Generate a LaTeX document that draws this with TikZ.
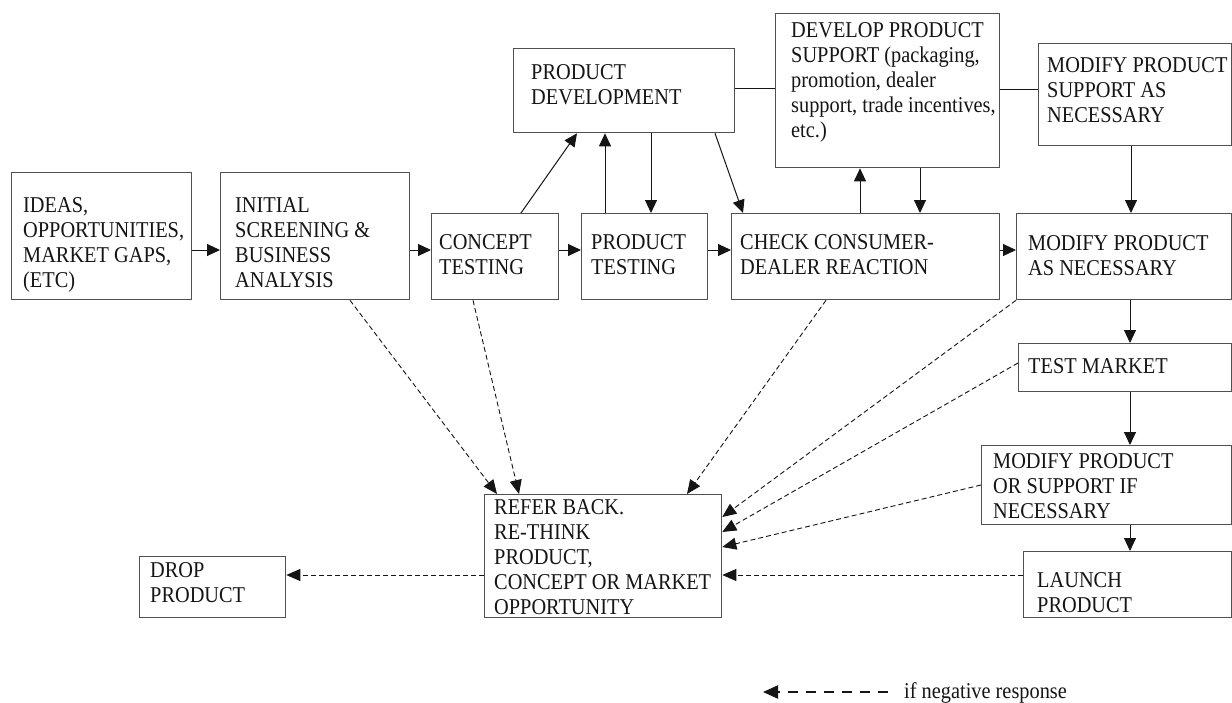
\documentclass[tikz,border=0pt]{standalone}
\usepackage{fontspec}
\setmainfont{Liberation Serif}[FakeStretch=0.9]
\usetikzlibrary{arrows.meta,calc}
\definecolor{boxline}{HTML}{505050}
\definecolor{ink}{HTML}{151515}
\tikzset{
  box/.style={draw=boxline, line width=1.3pt, rectangle, inner sep=0pt, anchor=north west, fill=none},
  txt/.style={anchor=north west, inner sep=0pt, align=left, text=ink, font={\fontsize{22.6}{25}\selectfont}},
  arr/.style={draw=ink, line width=1pt, -{Triangle[length=13pt,width=12pt]}},
  plain/.style={draw=ink, line width=1pt},
  neg/.style={draw=ink, line width=0.9pt, dash pattern=on 5pt off 3pt, -{Triangle[length=14pt,width=12pt]}},
  legarr/.style={draw=ink, line width=2.2pt, dash pattern=on 10pt off 8pt, -{Triangle[length=15pt,width=13pt]}}
}
\begin{document}
\begin{tikzpicture}[x=1pt,y=-1pt]
\fill[white] (0,0) rectangle (1232,702);
\useasboundingbox (0,0) rectangle (1232,702);
% boxes
\node[box, minimum width=180pt, minimum height=127pt] (ideas) at (11,172) {};
\node[box, minimum width=189pt, minimum height=127pt] (initial) at (220,172) {};
\node[box, minimum width=127pt, minimum height=86pt] (concept) at (431,213) {};
\node[box, minimum width=126pt, minimum height=86pt] (ptest) at (581,213) {};
\node[box, minimum width=268pt, minimum height=86pt] (check) at (731,213) {};
\node[box, minimum width=215pt, minimum height=86pt] (modify) at (1016,213) {};
\node[box, minimum width=221pt, minimum height=84pt] (pdev) at (513,48) {};
\node[box, minimum width=224pt, minimum height=154pt] (devsup) at (775,13) {};
\node[box, minimum width=193pt, minimum height=102pt] (modsup) at (1038,43) {};
\node[box, minimum width=213pt, minimum height=48pt] (tmarket) at (1018,343) {};
\node[box, minimum width=250pt, minimum height=79pt] (modos) at (981,445) {};
\node[box, minimum width=208pt, minimum height=66pt] (launch) at (1023,551) {};
\node[box, minimum width=237pt, minimum height=123pt] (refer) at (484,494) {};
\node[box, minimum width=146pt, minimum height=61pt] (drop) at (139,556) {};
% texts
\node[txt] (ideasT) at (23,197) {IDEAS,\\OPPORTUNITIES,\\MARKET GAPS,\\(ETC)};
\node[txt] (initialT) at (235,197) {INITIAL\\SCREENING \&\\BUSINESS\\ANALYSIS};
\node[txt] (conceptT) at (439,234) {CONCEPT\\TESTING};
\node[txt] (ptestT) at (591,234) {PRODUCT\\TESTING};
\node[txt] (checkT) at (740,234) {CHECK CONSUMER-\\DEALER REACTION};
\node[txt] (modifyT) at (1028,235) {MODIFY PRODUCT\\AS NECESSARY};
\node[txt] (pdevT) at (531,64) {PRODUCT\\DEVELOPMENT};
\node[txt] (devsupT) at (791,22) {DEVELOP PRODUCT\\SUPPORT (packaging,\\promotion, dealer\\support, trade incentives,\\etc.)};
\node[txt] (modsupT) at (1047,57) {MODIFY PRODUCT\\SUPPORT AS\\NECESSARY};
\node[txt] (tmarketT) at (1028,358) {TEST MARKET};
\node[txt] (modosT) at (993,453) {MODIFY PRODUCT\\OR SUPPORT IF\\NECESSARY};
\node[txt] (launchT) at (1037,572) {LAUNCH\\PRODUCT};
\node[txt] (referT) at (494,499) {REFER BACK.\\RE-THINK\\PRODUCT,\\CONCEPT OR MARKET\\OPPORTUNITY};
\node[txt] (dropT) at (150,562) {DROP\\PRODUCT};
% main flow
\draw[arr] ($(ideas.north east)+(0,78)$) -- ($(initial.north west)+(0,78)$);
\draw[arr] ($(initial.north east)+(0,78)$) -- ($(concept.north west)+(0,37)$);
\draw[arr] ($(concept.north east)+(0,37)$) -- ($(ptest.north west)+(0,37)$);
\draw[arr] ($(ptest.north east)+(0,37)$) -- ($(check.north west)+(0,37)$);
\draw[arr] ($(check.north east)+(0,37)$) -- ($(modify.north west)+(0,37)$);
\draw[arr] ($(concept.north west)+(90,0)$) -- ($(pdev.south west)+(64,0)$);
\draw[arr] ($(ptest.north west)+(24,0)$) -- ($(pdev.south west)+(92,0)$);
\draw[arr] ($(pdev.south west)+(138,0)$) -- ($(ptest.north west)+(70,0)$);
\draw[arr] ($(pdev.south west)+(202,0)$) -- ($(check.north west)+(12,0)$);
\draw[plain] ($(pdev.north east)+(0,40)$) -- ($(devsup.north west)+(0,75)$);
\draw[plain] ($(devsup.north east)+(0,76)$) -- ($(modsup.north west)+(0,46)$);
\draw[arr] ($(check.north west)+(129,0)$) -- ($(devsup.south west)+(85,0)$);
\draw[arr] ($(devsup.south west)+(145,0)$) -- ($(check.north west)+(189,0)$);
\draw[arr] ($(modsup.south west)+(93,0)$) -- ($(modify.north west)+(115,0)$);
\draw[arr] ($(modify.south west)+(114,0)$) -- ($(tmarket.north west)+(112,0)$);
\draw[arr] ($(tmarket.south west)+(112,0)$) -- ($(modos.north west)+(149,0)$);
\draw[arr] ($(modos.south west)+(149,0)$) -- ($(launch.north west)+(107,0)$);
% negative responses
\draw[neg] ($(initial.south west)+(130,0)$) -- ($(refer.north west)+(13,0)$);
\draw[neg] ($(concept.south west)+(42,0)$) -- ($(refer.north west)+(35,0)$);
\draw[neg] ($(check.south west)+(95,0)$) -- ($(refer.north west)+(203,0)$);
\draw[neg] (modify.south west) -- ($(refer.north east)+(0,23)$);
\draw[neg] ($(tmarket.north west)+(0,20)$) -- ($(refer.north east)+(0,38)$);
\draw[neg] ($(modos.north west)+(0,40)$) -- ($(refer.north east)+(0,53)$);
\draw[neg] ($(launch.north west)+(0,24)$) -- ($(refer.north east)+(0,81)$);
\draw[neg] ($(refer.north west)+(0,81)$) -- ($(drop.north east)+(0,19)$);
% legend
\coordinate (lgA) at (888,692);
\coordinate (lgB) at (763,692);
\draw[legarr] (lgA) -- (lgB);
\node[txt, anchor=base west] (legT) at (904,698) {if negative response};
\end{tikzpicture}
\end{document}
